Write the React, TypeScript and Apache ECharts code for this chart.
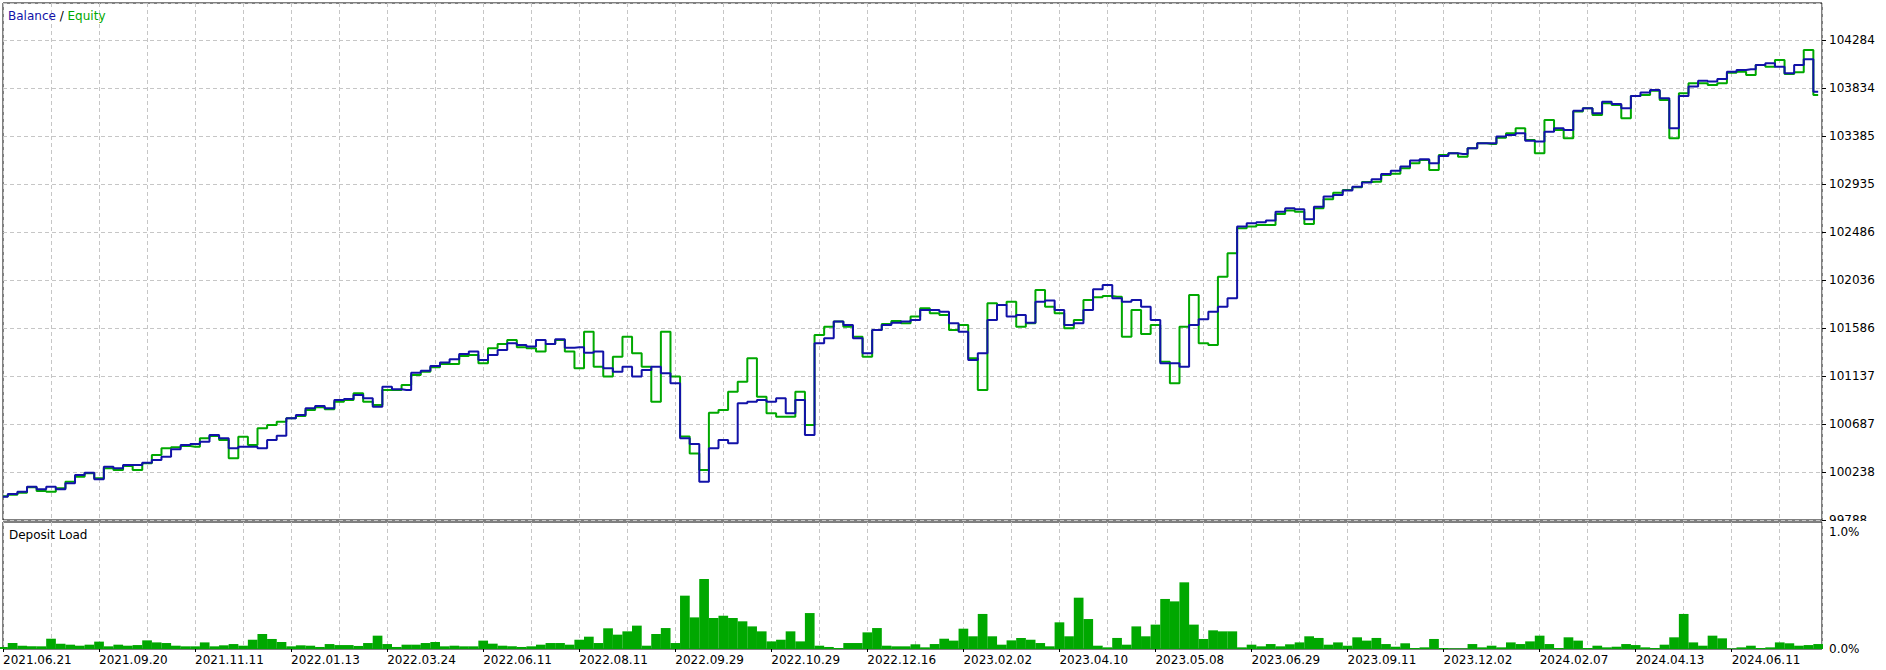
import React, { useEffect, useRef } from "react";
import * as echarts from "echarts";

// ---- data ----
const xTickLabels = [
  "2021.06.21", "2021.09.20", "2021.11.11", "2022.01.13", "2022.03.24", "2022.06.11",
  "2022.08.11", "2022.09.29", "2022.10.29", "2022.12.16", "2023.02.02", "2023.04.10",
  "2023.05.08", "2023.06.29", "2023.09.11", "2023.12.02", "2024.02.07", "2024.04.13", "2024.06.11",
];
const yTickLabels = [
  "99788", "100238", "100687", "101137", "101586", "102036",
  "102486", "102935", "103385", "103834", "104284",
];
const loadTickLabels = ["0.0%", "1.0%"];

const balance = [
  100006, 100032, 100053, 100100, 100075, 100100, 100075, 100132, 100210, 100231,
  100169, 100287, 100272, 100303, 100303, 100325, 100350, 100381, 100450, 100491,
  100500, 100522, 100584, 100553, 100459, 100475, 100475, 100460, 100537, 100578,
  100740, 100772, 100834, 100856, 100834, 100912, 100921, 100959, 100928, 100849,
  101037, 101012, 101006, 101168, 101187, 101230, 101262, 101293, 101343, 101365,
  101287, 101333, 101380, 101443, 101427, 101412, 101474, 101436, 101480, 101402,
  101405, 101355, 101365, 101209, 101177, 101224, 101131, 101193, 101224, 101162,
  101068, 100553, 100500, 100147, 100459, 100537, 100506, 100881, 100896, 100912,
  100896, 100928, 100787, 100912, 100584, 101443, 101490, 101646, 101615, 101490,
  101349, 101568, 101615, 101636, 101646, 101661, 101755, 101755, 101739, 101630,
  101552, 101287, 101349, 101661, 101802, 101693, 101708, 101636, 101833, 101843,
  101755, 101615, 101630, 101755, 101949, 101989, 101864, 101833, 101849, 101786,
  101661, 101255, 101255, 101224, 101615, 101668, 101739, 101786, 101864, 102536,
  102567, 102576, 102592, 102676, 102707, 102698, 102604, 102723, 102817, 102832,
  102873, 102910, 102948, 102979, 103029, 103060, 103098, 103154, 103166, 103129,
  103197, 103222, 103216, 103269, 103316, 103316, 103379, 103394, 103410, 103341,
  103332, 103425, 103457, 103441, 103622, 103644, 103597, 103706, 103685, 103644,
  103759, 103791, 103816, 103738, 103457, 103759, 103847, 103903, 103894, 103919,
  103987, 104003, 104009, 104050, 104065, 104034, 103972, 104050, 104103, 103800,
];

const equity = [
  100010, 100025, 100044, 100094, 100060, 100053, 100085, 100147, 100194, 100225,
  100178, 100272, 100256, 100294, 100256, 100319, 100397, 100459, 100469, 100481,
  100475, 100553, 100575, 100537, 100366, 100568, 100490, 100647, 100678, 100709,
  100740, 100762, 100818, 100844, 100825, 100896, 100912, 100975, 100896, 100865,
  101006, 101006, 101052, 101146, 101177, 101218, 101249, 101249, 101324, 101333,
  101256, 101396, 101436, 101474, 101405, 101396, 101365, 101436, 101474, 101365,
  101209, 101552, 101224, 101131, 101318, 101505, 101349, 101224, 100896, 101552,
  101131, 100569, 100412, 100256, 100793, 100818, 100990, 101084, 101302, 100943,
  100787, 100756, 100756, 100990, 100678, 101521, 101599, 101646, 101599, 101505,
  101318, 101568, 101624, 101652, 101630, 101693, 101771, 101724, 101708, 101568,
  101615, 101302, 101006, 101817, 101802, 101833, 101599, 101630, 101942, 101786,
  101724, 101583, 101661, 101849, 101874, 101886, 101880, 101505, 101755, 101530,
  101615, 101271, 101068, 101599, 101896, 101443, 101427, 102067, 102286, 102520,
  102536, 102551, 102551, 102654, 102686, 102676, 102561, 102707, 102792, 102854,
  102879, 102904, 102954, 102957, 103020, 103032, 103082, 103129, 103160, 103066,
  103207, 103222, 103191, 103269, 103316, 103310, 103369, 103410, 103457, 103347,
  103222, 103535, 103441, 103363, 103613, 103644, 103582, 103691, 103675, 103550,
  103759, 103769, 103809, 103722, 103363, 103784, 103878, 103878, 103863, 103878,
  103978, 103987, 103956, 104050, 104034, 104097, 103966, 103981, 104190, 103769,
];

const depositLoad = [
  0.016, 0.047, 0.026, 0.021, 0.021, 0.081, 0.042, 0.034, 0.026, 0.034,
  0.058, 0.021, 0.034, 0.026, 0.031, 0.068, 0.052, 0.047, 0.026, 0.021,
  0.021, 0.052, 0.021, 0.029, 0.039, 0.026, 0.073, 0.118, 0.079, 0.055,
  0.021, 0.029, 0.026, 0.016, 0.039, 0.031, 0.031, 0.024, 0.047, 0.105,
  0.039, 0.016, 0.034, 0.034, 0.047, 0.055, 0.021, 0.026, 0.021, 0.021,
  0.066, 0.042, 0.026, 0.021, 0.016, 0.021, 0.034, 0.047, 0.047, 0.034,
  0.073, 0.097, 0.047, 0.163, 0.113, 0.139, 0.184, 0.026, 0.118, 0.165,
  0.047, 0.420, 0.249, 0.551, 0.244, 0.262, 0.244, 0.218, 0.178, 0.139,
  0.060, 0.073, 0.139, 0.060, 0.283, 0.026, 0.016, 0.008, 0.047, 0.047,
  0.131, 0.165, 0.026, 0.021, 0.021, 0.037, 0.013, 0.039, 0.081, 0.066,
  0.160, 0.100, 0.276, 0.100, 0.034, 0.068, 0.087, 0.073, 0.047, 0.021,
  0.210, 0.100, 0.404, 0.236, 0.026, 0.013, 0.087, 0.034, 0.178, 0.100,
  0.192, 0.394, 0.375, 0.525, 0.192, 0.079, 0.147, 0.139, 0.139, 0.013,
  0.034, 0.021, 0.039, 0.021, 0.037, 0.052, 0.100, 0.087, 0.034, 0.052,
  0.026, 0.092, 0.066, 0.087, 0.039, 0.018, 0.045, 0.008, 0.013, 0.079,
  0.008, 0.005, 0.005, 0.039, 0.013, 0.026, 0.013, 0.052, 0.039, 0.060,
  0.105, 0.039, 0.008, 0.092, 0.066, 0.008, 0.026, 0.013, 0.018, 0.039,
  0.031, 0.013, 0.008, 0.034, 0.092, 0.276, 0.052, 0.026, 0.105, 0.084,
  0.005, 0.013, 0.026, 0.008, 0.013, 0.052, 0.045, 0.026, 0.031, 0.039,
];

// ---- scale settings ----
const Y_MIN = 99788;
const Y_STEP = 449.6;
const Y_STEPS_SHOWN = 10.77; // panel height in grid steps
const X_MAX = 189.4;

const FONT = "DejaVu Sans";
const BLUE = "#1212a8";
const GREEN = "#00a800";
const GRID_COLOR = "#c6c6c6";

export default function App() {
  const ref = useRef<HTMLDivElement>(null);

  useEffect(() => {
    if (!ref.current) return;
    const chart = echarts.init(ref.current, null, { renderer: "svg" });

    const dashed = { show: true, lineStyle: { color: GRID_COLOR, type: [4, 3], width: 1 } };
    const idxLabel = (arr: string[]) => (v: number) => {
      const k = Math.round(v);
      if (Math.abs(v - k) > 1e-6) return "";
      return arr[k] ?? "";
    };

    const option: any = {
      animation: false,
      backgroundColor: "#fff",
      textStyle: { fontFamily: FONT, fontSize: 12, color: "#000" },
      grid: [
        { left: 3, top: 3, width: 1819, height: 517, show: true, borderColor: "#000", borderWidth: 1 },
        { left: 3, top: 522, width: 1819, height: 127, show: true, borderColor: "#000", borderWidth: 1 },
      ],
      xAxis: [
        {
          gridIndex: 0, type: "value", min: 0, max: X_MAX, interval: 5,
          axisLabel: { show: false }, axisTick: { show: false }, axisLine: { show: false },
          splitLine: dashed,
        },
        {
          gridIndex: 1, type: "value", position: "top", min: 0, max: X_MAX, interval: 5,
          axisLabel: { show: false }, axisTick: { show: false }, axisLine: { show: false },
          splitLine: dashed,
        },
        {
          gridIndex: 1, type: "value", position: "bottom", min: 0, max: X_MAX, interval: 10,
          axisLine: { show: false },
          axisTick: { show: true, length: 3, lineStyle: { color: "#000" } },
          splitLine: { show: false },
          axisLabel: {
            show: true, align: "left", margin: 5, color: "#000", fontFamily: FONT, fontSize: 12,
            formatter: (v: number) => idxLabel(xTickLabels)(v / 10),
            showMaxLabel: false,
          },
        },
      ],
      yAxis: [
        { gridIndex: 0, type: "value", min: Y_MIN, max: Y_MIN + Y_STEP * Y_STEPS_SHOWN, show: false },
        {
          gridIndex: 0, type: "value", position: "right", min: 0, max: Y_STEPS_SHOWN, interval: 1,
          axisLine: { show: false },
          axisTick: { show: true, length: 4, lineStyle: { color: "#000" } },
          splitLine: dashed,
          axisLabel: {
            show: true, margin: 7, color: "#000", fontFamily: FONT, fontSize: 12,
            formatter: idxLabel(yTickLabels), showMaxLabel: false,
          },
        },
        {
          gridIndex: 1, type: "value", position: "right", min: 0, max: 1, interval: 1, z: 60,
          axisLine: { show: false }, axisTick: { show: false }, splitLine: { show: false },
          axisLabel: {
            show: true, margin: 7, color: "#000", fontFamily: FONT, fontSize: 12,
            formatter: (v: number) => {
              const t = idxLabel(loadTickLabels)(v);
              return v > 0.5 ? `{t|${t}}` : `{b|${t}}`;
            },
            rich: {
              t: { padding: [20, 0, 0, 0], color: "#000", fontFamily: FONT, fontSize: 12 },
              b: { color: "#000", fontFamily: FONT, fontSize: 12 },
            },
          },
        },
      ],
      series: [
        {
          name: "Equity", type: "line", xAxisIndex: 0, yAxisIndex: 0, step: "middle",
          symbol: "none", data: equity.map((v, i) => [i, v]),
          lineStyle: { color: GREEN, width: 2 }, itemStyle: { color: GREEN }, z: 2,
        },
        {
          name: "Balance", type: "line", xAxisIndex: 0, yAxisIndex: 0, step: "middle",
          symbol: "none", data: balance.map((v, i) => [i, v]),
          lineStyle: { color: BLUE, width: 2 }, itemStyle: { color: BLUE }, z: 3,
        },
        {
          name: "Deposit Load", type: "bar", xAxisIndex: 2, yAxisIndex: 2,
          data: depositLoad.map((v, i) => [i, v]), barWidth: 9.7,
          itemStyle: { color: GREEN },
        },
      ],
      graphic: [
        {
          type: "rect", z: 50, shape: { x: 1823, y: 521, width: 63, height: 24 },
          style: { fill: "#fff" }, silent: true,
        },
        {
          type: "text", z: 100, x: 8, y: 15.5,
          style: {
            text: "{b|Balance} / {e|Equity}",
            fill: "#000", font: `12px '${FONT}'`, verticalAlign: "middle",
            rich: {
              b: { fill: BLUE, font: `12px '${FONT}'` },
              e: { fill: GREEN, font: `12px '${FONT}'` },
            },
          },
        },
        {
          type: "text", z: 100, x: 9, y: 535,
          style: { text: "Deposit Load", fill: "#000", font: `12px '${FONT}'`, verticalAlign: "middle" },
        },
      ],
    };

    chart.setOption(option);
    return () => chart.dispose();
  }, []);

  return (
    <div
      ref={ref}
      style={{ position: "fixed", left: 0, top: 0, width: 1886, height: 670, background: "#fff" }}
    />
  );
}
